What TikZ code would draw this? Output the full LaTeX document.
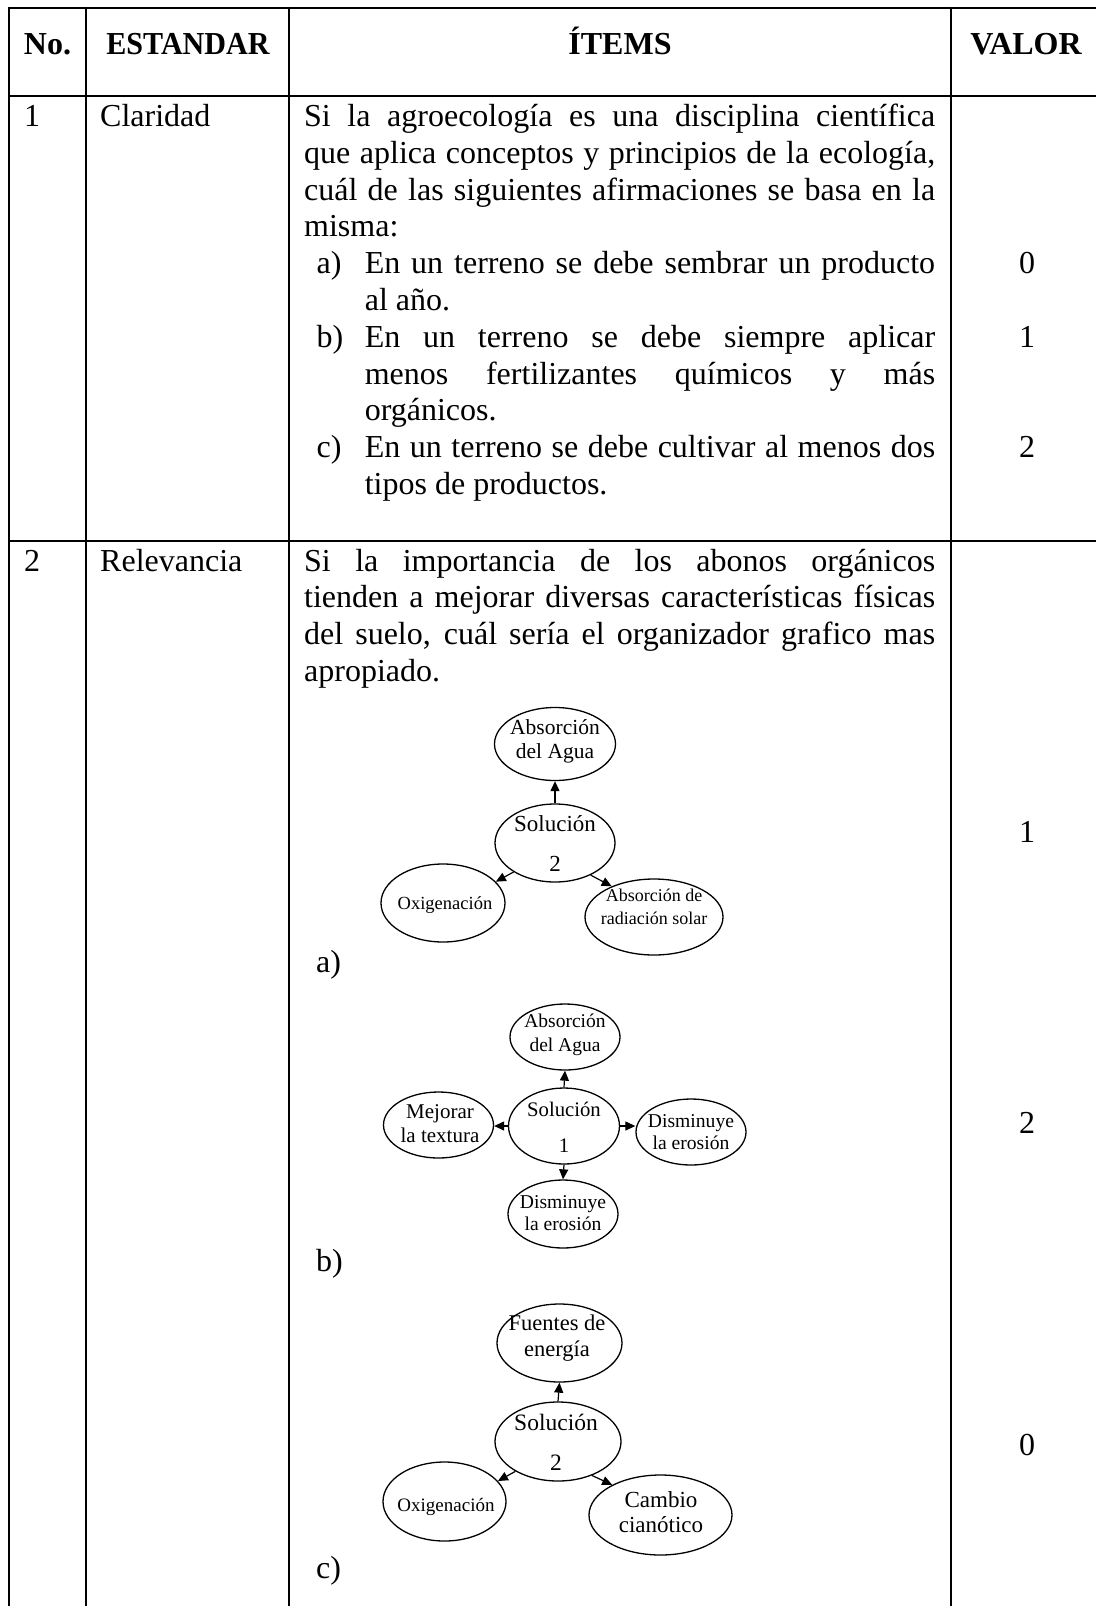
\documentclass[tikz,border=0pt]{standalone}
\usepackage{fontspec}
\setmainfont{Liberation Serif}
\usetikzlibrary{shapes.geometric,arrows.meta}

% a line set flush at both ends, spaces stretched
\newcommand\justline[2]{\makebox[#1][s]{#2}}
\newcommand\fsz[2]{\fontsize{#1pt}{#2pt}\selectfont}

\begin{document}
\begin{tikzpicture}[x=1pt,y=-1pt,
  rule/.style={line width=2pt},
  hdr/.style={inner sep=0, anchor=base, font=\fsz{32}{37}\bfseries},
  txt/.style={inner sep=0, anchor=base west, font=\fsz{32}{37}},
  val/.style={inner sep=0, anchor=base, font=\fsz{32}{37}},
  bub/.style={ellipse, draw, line width=1.3pt, inner sep=0},
  lbl/.style={inner sep=0, align=center},
  arr/.style={line width=1.2pt, -{Triangle[length=10pt,width=9pt]}},
]
\fill[white] (0,0) rectangle (1096,1606);
\useasboundingbox (0,0) rectangle (1096,1606);

% ---- table rules ----
\draw[rule] (8.7,7.5) -- (1096,7.5);
\draw[rule] (8.7,95.5) -- (1096,95.5);
\draw[rule] (8.7,540.5) -- (1096,540.5);
\foreach \x in {8.7,86,288.7,951}
  \draw[rule] (\x,6.5) -- (\x,1606);

% ---- header ----
\node[hdr] (hno)  at (47.5,54) {No.};
\node[hdr] (hest) at (188,54) {\scalebox{0.94}[1]{ESTANDAR}};
\node[hdr] (hit)  at (620,54) {ÍTEMS};
\node[hdr] (hval) at (1026,54) {VALOR};

% ---- row 1 ----
\node[txt] (n1) at (24,126.5) {1};
\node[txt] (e1) at (100,126.5) {Claridad};
\node[txt] (q1a) at (304,126.5) {\justline{631pt}{Si la agroecología es una disciplina científica}};
\node[txt] (q1b) at (304,163.3) {\justline{631pt}{que aplica conceptos y principios de la ecología,}};
\node[txt] (q1c) at (304,200.1) {\justline{631pt}{cuál de las siguientes afirmaciones se basa en la}};
\node[txt] (q1d) at (304,236.9) {misma:};
\node[txt] (oa)  at (316.5,273.7) {a)};
\node[txt] (oa1) at (364.6,273.7) {\justline{570.4pt}{En un terreno se debe sembrar un producto}};
\node[txt] (oa2) at (364.6,310.5) {al año.};
\node[txt] (ob)  at (316.5,347.3) {b)};
\node[txt] (ob1) at (364.6,347.3) {\justline{570.4pt}{En un terreno se debe siempre aplicar}};
\node[txt] (ob2) at (364.6,384.1) {\justline{570.4pt}{menos fertilizantes químicos y más}};
\node[txt] (ob3) at (364.6,420.9) {orgánicos.};
\node[txt] (oc)  at (316.5,457.7) {c)};
\node[txt] (oc1) at (364.6,457.7) {\justline{570.4pt}{En un terreno se debe cultivar al menos dos}};
\node[txt] (oc2) at (364.6,494.5) {tipos de productos.};
\node[val] (v1a) at (1027,273.7) {0};
\node[val] (v1b) at (1027,347.3) {1};
\node[val] (v1c) at (1027,457.7) {2};

% ---- row 2 ----
\node[txt] (n2) at (24,571) {2};
\node[txt] (e2) at (100,571) {Relevancia};
\node[txt] (q2a) at (304,571) {\justline{631pt}{Si la importancia de los abonos orgánicos}};
\node[txt] (q2b) at (304,607.8) {\justline{631pt}{tienden a mejorar diversas características físicas}};
\node[txt] (q2c) at (304,644.6) {\justline{631pt}{del suelo, cuál sería el organizador grafico mas}};
\node[txt] (q2d) at (304,681.4) {apropiado.};
\node[val] (v2a) at (1027,842) {1};
\node[val] (v2b) at (1027,1133) {2};
\node[val] (v2c) at (1027,1455) {0};

% ---- organizer a) ----
\node[bub, minimum width=121pt, minimum height=73pt] (ta) at (555,744) {};
\node[bub, minimum width=120pt, minimum height=78pt] (sa) at (555,843) {};
\node[bub, minimum width=124pt, minimum height=78pt] (xa) at (443,903) {};
\node[bub, minimum width=138pt, minimum height=76pt] (ra) at (654,917) {};
\node[lbl, font=\fsz{21.5}{24}] (tat) at (555,741) {Absorción\\del Agua};
\node[lbl, font=\fsz{23}{40}] (sat) at (555,843) {Solución\\2};
\node[lbl, font=\fsz{18.5}{22}] (xat) at (445,905) {Oxigenación};
\node[lbl, font=\fsz{18}{23}] (rat) at (654,907) {Absorción de\\radiación solar};
\draw[arr] (sa.north) -- (ta.south);
\draw[arr] (sa.215) -- (xa.22);
\draw[arr] (sa.318) -- (ra.144);
\node[txt] (la) at (316,972) {a)};

% ---- organizer b) ----
\node[bub, minimum width=110pt, minimum height=66pt] (tb) at (565,1037) {};
\node[bub, minimum width=111pt, minimum height=76pt] (sb) at (564,1126) {};
\node[bub, minimum width=110pt, minimum height=66pt] (lb) at (438.5,1125) {};
\node[bub, minimum width=110pt, minimum height=66pt] (rb) at (691,1132) {};
\node[bub, minimum width=110pt, minimum height=68pt] (bb) at (563,1214) {};
\node[lbl, font=\fsz{19.5}{23.5}] (tbt) at (565,1035) {Absorción\\del Agua};
\node[lbl, font=\fsz{20.7}{36}] (sbt) at (564,1127) {Solución\\1};
\node[lbl, font=\fsz{21}{24}] (lbt) at (440,1124) {Mejorar\\la textura};
\node[lbl, font=\fsz{19.6}{21.5}] (rbt) at (691,1132) {Disminuye\\la erosión};
\node[lbl, font=\fsz{19.6}{22.5}] (bbt) at (563,1213) {Disminuye\\la erosión};
\draw[arr] (sb.north) -- (tb.south);
\draw[arr] (sb.west) -- (sb.west -| lb.east);
\draw[arr] (sb.east) -- (sb.east -| rb.west);
\draw[arr] (sb.south) -- (bb.north);
\node[txt] (lbb) at (316,1271) {b)};

% ---- organizer c) ----
\node[bub, minimum width=125pt, minimum height=78pt] (tc) at (559.5,1343) {};
\node[bub, minimum width=126pt, minimum height=79pt] (sc) at (558,1441.5) {};
\node[bub, minimum width=123pt, minimum height=79pt] (xc) at (444.5,1501.5) {};
\node[bub, minimum width=143pt, minimum height=80pt] (cc) at (660.5,1515) {};
\node[lbl, font=\fsz{22.5}{26}] (tct) at (557,1338) {Fuentes de\\energía};
\node[lbl, font=\fsz{23.5}{40}] (sct) at (556,1442) {Solución\\2};
\node[lbl, font=\fsz{19}{22}] (xct) at (446,1507) {Oxigenación};
\node[lbl, font=\fsz{23}{25.5}] (cct) at (661,1512) {Cambio\\cianótico};
\draw[arr] (sc.north) -- (tc.south);
\draw[arr] (sc.215) -- (xc.21);
\draw[arr] (sc.315) -- (cc.148);
\node[txt] (lc) at (316,1578) {c)};
\end{tikzpicture}
\end{document}
